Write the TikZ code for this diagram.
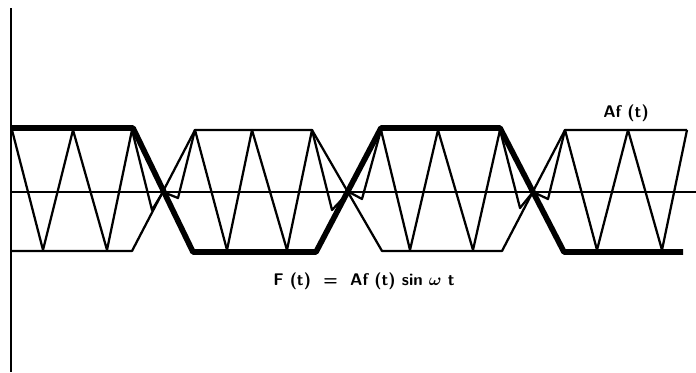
\documentclass[tikz,border=0pt]{standalone}
\usepackage{amsmath, amssymb}
\begin{document}
\begin{tikzpicture}
    [x=0.25mm, y=-0.25mm,
     axis/.style={line width=1.4pt},
     env/.style={line width=4pt, line join=round},
     wave/.style={line width=1.6pt, line join=round},
     lbl/.style={font=\sffamily\bfseries\large}]
    \useasboundingbox (0,0) rectangle (696,372);
    \draw[axis] (11,8) -- (11,372);
    \draw[axis] (11,192) -- (696,192);

    \draw[env] (12,128) -- (133,128) -- (193,252) -- (316,252) -- (381,128) -- (500,128) -- (564,252) -- (683,252);
    \draw[wave] (12,251) -- (132,251) -- (195,130) -- (312,130) -- (382,251) -- (502,251) -- (565,130) -- (687,130);

    \draw[wave] (12,130) -- (43,250) -- (73,130) -- (107,250) -- (132,130)
        -- (152,210) -- (163,192) -- (178,198) -- (195,130)
        -- (227,250) -- (252,130) -- (287,250) -- (312,130)
        -- (332,210) -- (349,192) -- (362,199) -- (381,130)
        -- (410,250) -- (438,130) -- (473,250) -- (500,130)
        -- (520,208) -- (533,192) -- (548,199) -- (565,130)
        -- (597,250) -- (628,130) -- (662,250) -- (687,130);

    \node at (626,113) [lbl] (af) {Af (t)};
    \node at (364,281) [lbl] (ft) {F (t) \ = \ Af (t) sin $\boldsymbol{\omega}$ t};
\end{tikzpicture}
\end{document}
